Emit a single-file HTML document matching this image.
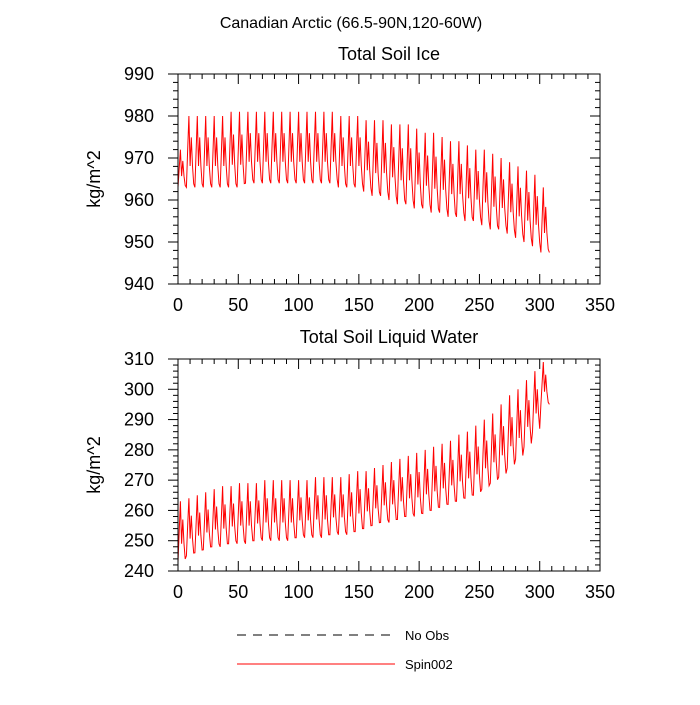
<!DOCTYPE html>
<html><head><meta charset="utf-8"><style>
body{margin:0;background:#fff;width:700px;height:700px;overflow:hidden}
svg{font-family:"Liberation Sans",sans-serif}
</style></head><body>
<svg id="chart" width="700" height="700" viewBox="0 0 700 700">
<text x="351" y="28" font-size="16" text-anchor="middle">Canadian Arctic (66.5-90N,120-60W)</text>
<text x="389" y="60" font-size="18" text-anchor="middle">Total Soil Ice</text>
<text x="389" y="343" font-size="18" text-anchor="middle">Total Soil Liquid Water</text>
<g>
<line x1="237" y1="635" x2="395" y2="635" stroke="#000" stroke-width="1" stroke-dasharray="9,7"/>
<text x="405" y="640" font-size="13">No Obs</text>
<line x1="237" y1="664" x2="395" y2="664" stroke="#f00" stroke-width="1"/>
<text x="405" y="669" font-size="13">Spin002</text>
</g>
</svg>
<script>
const xTicks=[0,50,100,150,200,250,300,350];
const topYTicks=[940,950,960,970,980,990];
const botYTicks=[240,250,260,270,280,290,300,310];
const cycleShape=[0,0.5,1,0.3,0.7,0.3,0.05];
const topHi=[972,980,980,980,980,980,981,981,981,981,981,981,981,981,981,981,981,981,981,980,980,980,979,979,979,978,978,978,977,976,976,975,974,974,973,972,972,971,970,969,968,967,966,963];
const topLo=[963,963,963,963,963,963,963,963,964,964,964,964,964,964,964,964,964,964,964,963,963,963,962,961,961,960,959,959,958,958,957,957,956,956,955,955,954,953,953,952,951,950,949,947.5];
const botHi=[263,264,265,266,267,268,268,269,269,269,270,270,270,270,270,270,271,271,271,271,272,273,273,274,275,276,277,278,279,280,281,282,283,285,286,288,290,292,295,298,300,303,306,309];
const botLo=[243,245,246,247,248,248,249,249,249,250,250,250,250,250,251,251,251,251,252,252,252,253,254,255,256,256,257,258,258,259,260,261,262,263,264,265,267,269,271,274,277,281,286,295];
const cycleLen=7;
const NS="http://www.w3.org/2000/svg";
const svg=document.getElementById('chart');
function mk(tag,attrs,parent){const e=document.createElementNS(NS,tag);for(const k in attrs)e.setAttribute(k,attrs[k]);(parent||svg).appendChild(e);return e;}
function panel(name,top,bottom,ymin,ymax,yTicks,hi,lo,ystep){
  const L=178,R=600;
  const xs=v=>L+(v-0)/(350-0)*(R-L);
  const ys=v=>bottom-(v-ymin)/(ymax-ymin)*(bottom-top);
  const g=mk('g',{});
  
  
  const pts=[];
  for(let k=0;k<hi.length;k++){
    for(let j=0;j<cycleLen;j++){
      const t=k*cycleLen+j;
      pts.push([xs(t),ys(lo[k]+cycleShape[j]*(hi[k]-lo[k]))]);
    }
  }
  pts.push([xs(hi.length*cycleLen),ys(lo[lo.length-1])]);
  const p=mk('polyline',{points:pts.map(p=>p[0].toFixed(1)+','+p[1].toFixed(1)).join(' '),fill:'none',stroke:'#f00','stroke-width':1},g);
  
  
  const fr=mk('rect',{x:L,y:top,width:R-L,height:bottom-top,fill:'none',stroke:'#000','stroke-width':1},g);
  
  
  for(let v=0;v<=350;v+=10){
    const major=v%50===0,len=major?10:5,x=xs(v);
    mk('line',{x1:x,y1:bottom,x2:x,y2:bottom-len,stroke:'#000'},g);
    mk('line',{x1:x,y1:top,x2:x,y2:top+len,stroke:'#000'},g);
  }
  xTicks.forEach(v=>{
    const t=mk('text',{x:xs(v),y:bottom+27,'font-size':18,'text-anchor':'middle'},g);
    t.textContent=v;
    
    
  });
  for(let v=ymin;v<=ymax+1e-9;v+=ystep){
    const major=Math.abs((v-ymin)%10)<1e-6,len=major?10:5,y=ys(v);
    mk('line',{x1:L,y1:y,x2:L-len,y2:y,stroke:'#000'},g);
    mk('line',{x1:R,y1:y,x2:R-len,y2:y,stroke:'#000'},g);
  }
  yTicks.forEach(v=>{
    const t=mk('text',{x:L-24,y:ys(v)+6,'font-size':18,'text-anchor':'end'},g);
    t.textContent=v;
    
    
  });
  const cy=(top+bottom)/2;
  const yt=mk('text',{x:100,y:cy,'font-size':18,'text-anchor':'middle',transform:'rotate(-90 100 '+cy+')'},g);
  yt.textContent='kg/m^2';
  
  
}
panel('top',74,284,940,990,topYTicks,topHi,topLo,2);
panel('bottom',359,571,240,310,botYTicks,botHi,botLo,2);
</script>
</body></html>
